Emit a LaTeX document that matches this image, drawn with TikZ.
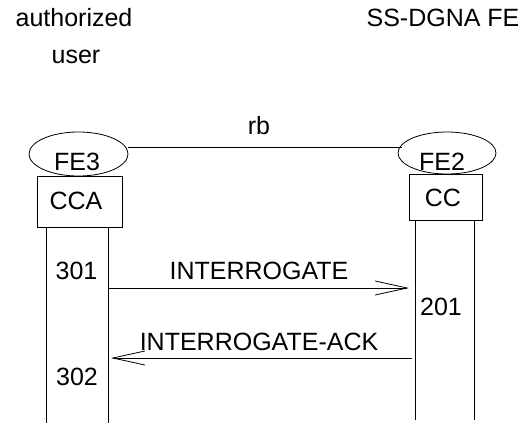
\documentclass[tikz,border=0pt]{standalone}
\usepackage{fontspec}
\setmainfont{Liberation Sans}
\usetikzlibrary{shapes.geometric,arrows.meta}
\begin{document}
\begin{tikzpicture}[x=1pt,y=-1pt,
  every node/.style={font=\fontsize{25}{30}\selectfont, inner sep=0pt},
  lbl/.style={anchor=base},
  fe/.style={draw, ellipse, line width=0.8pt},
  fbox/.style={draw, line width=0.8pt},
  life/.style={line width=0.8pt},
  msg/.style={line width=0.8pt, -{Straight Barb[length=32pt,width=14pt,line width=0.8pt]}}]
\useasboundingbox (0,0) rectangle (528,423);
% titles
\node[lbl] (au) at (74,27) {authorized};
\node[lbl] (us) at (76,63) {user};
\node[lbl] (ss) at (443,27) {SS-DGNA FE};
% FEs
\node[fe, minimum width=99pt, minimum height=44pt] (fe3) at (78.5,154) {};
\node[fe, minimum width=98pt, minimum height=42pt] (fe2) at (447,153) {};
\node[lbl] (fe3t) at (77,170) {FE3};
\node[lbl] (fe2t) at (442,170) {FE2};
\coordinate (rbL) at (128,147.3);
\coordinate (rbR) at (402,147.3);
\draw[life] (rbL) -- (rbR);
\node[lbl] (rb) at (259,134) {rb};
% boxes
\node[fbox, minimum width=85pt, minimum height=51pt] (cca) at (79.5,201.5) {};
\node[lbl] (ccat) at (76,209) {CCA};
\node[fbox, minimum width=73pt, minimum height=46pt] (cc) at (445.5,197) {};
\node[lbl] (cct) at (443,206.5) {CC};
% lifelines
\coordinate (l1t) at (46,227); \coordinate (l1b) at (46,423);
\coordinate (l2t) at (108,227); \coordinate (l2b) at (108,423);
\coordinate (r1t) at (415,220); \coordinate (r1b) at (415,420);
\coordinate (r2t) at (474,220); \coordinate (r2b) at (474,420);
\draw[life] (l1t) -- (l1b);
\draw[life] (l2t) -- (l2b);
\draw[life] (r1t) -- (r1b);
\draw[life] (r2t) -- (r2b);
% messages
\coordinate (m1s) at (108,288); \coordinate (m1e) at (409,288);
\draw[msg] (m1s) -- (m1e);
\node[lbl] (m1) at (259,279) {INTERROGATE};
\coordinate (m2s) at (412,358); \coordinate (m2e) at (111,358);
\draw[msg] (m2s) -- (m2e);
\node[lbl] (m2) at (259,350) {INTERROGATE-ACK};
% state numbers
\node[lbl] (s301) at (76.5,279) {301};
\node[lbl] (s201) at (441,315) {201};
\node[lbl] (s302) at (77,385) {302};
\end{tikzpicture}
\end{document}
